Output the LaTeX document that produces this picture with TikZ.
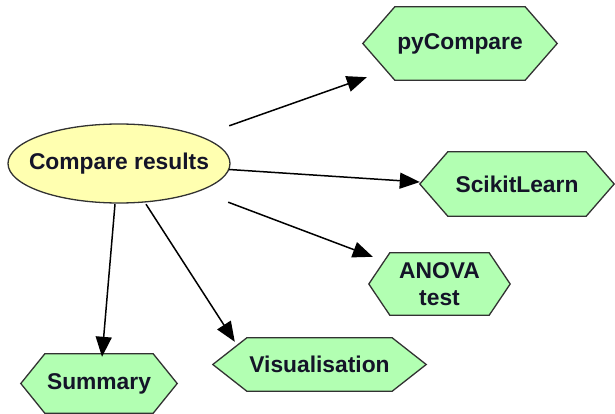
\documentclass[tikz,border=0pt]{standalone}
\usepackage{fontspec}
\setmainfont{Liberation Sans}
\usetikzlibrary{arrows.meta,calc,backgrounds}
\definecolor{ellfill}{RGB}{255,255,176}
\definecolor{hexfill}{RGB}{178,255,178}
\definecolor{edgegray}{RGB}{50,50,50}
\definecolor{txt}{RGB}{20,20,40}
\begin{document}
\begin{tikzpicture}[x=1pt,y=-1pt,
  lbl/.style={font=\fontsize{22.8}{27}\selectfont\bfseries, text=txt, inner sep=0pt, align=center},
  hexbox/.style={lbl, rectangle},
  ellline/.style={draw=edgegray, line width=1.3pt, fill=ellfill},
  hexline/.style={draw=edgegray, line width=1.3pt, fill=hexfill, line join=miter},
  arr/.style={-{Triangle[length=20pt,width=16pt]}, line width=1.5pt, black}]
\useasboundingbox (0,0) rectangle (615,414);
\node[hexbox, minimum width=222pt, minimum height=79pt] (cr) at (119,163.5) {Compare results};
\node[hexbox, minimum width=194pt, minimum height=73pt] (py) at (460,43.5) {pyCompare};
\node[hexbox, minimum width=194pt, minimum height=64pt] (sk) at (517,184) {ScikitLearn};
\node[hexbox, minimum width=141pt, minimum height=62pt] (an) at (439.5,284) {ANOVA\\test};
\node[hexbox, minimum width=156pt, minimum height=59pt] (su) at (99,383.5) {Summary};
\node[hexbox, minimum width=213pt, minimum height=53pt] (vi) at (319.5,364.5) {Visualisation};
\begin{scope}[on background layer]
\draw[ellline] (cr.center) ellipse [x radius=111pt, y radius=39.5pt];
\foreach \n/\i in {py/32, sk/28, an/21, su/24, vi/34}
  \draw[hexline] (\n.west) -- ($(\n.north west)+(\i,0)$) -- ($(\n.north east)+(-\i,0)$)
     -- (\n.east) -- ($(\n.south east)+(-\i,0)$) -- ($(\n.south west)+(\i,0)$) -- cycle;
\end{scope}
\draw[arr] ($(cr.north east)+(-1,2)$) -- ($(py.south west)+(4,-3)$);
\draw[arr] ($(cr.east)+(-1,6)$) -- ($(sk.west)+(0,-2)$);
\draw[arr] ($(cr.south east)+(-2,-1)$) -- ($(an.north west)+(4,4)$);
\draw[arr] ($(cr.south)+(-4,1)$) -- ($(su.north)+(3,3)$);
\draw[arr] ($(cr.south)+(27,1)$) -- ($(vi.north west)+(22,4)$);
\end{tikzpicture}
\end{document}
